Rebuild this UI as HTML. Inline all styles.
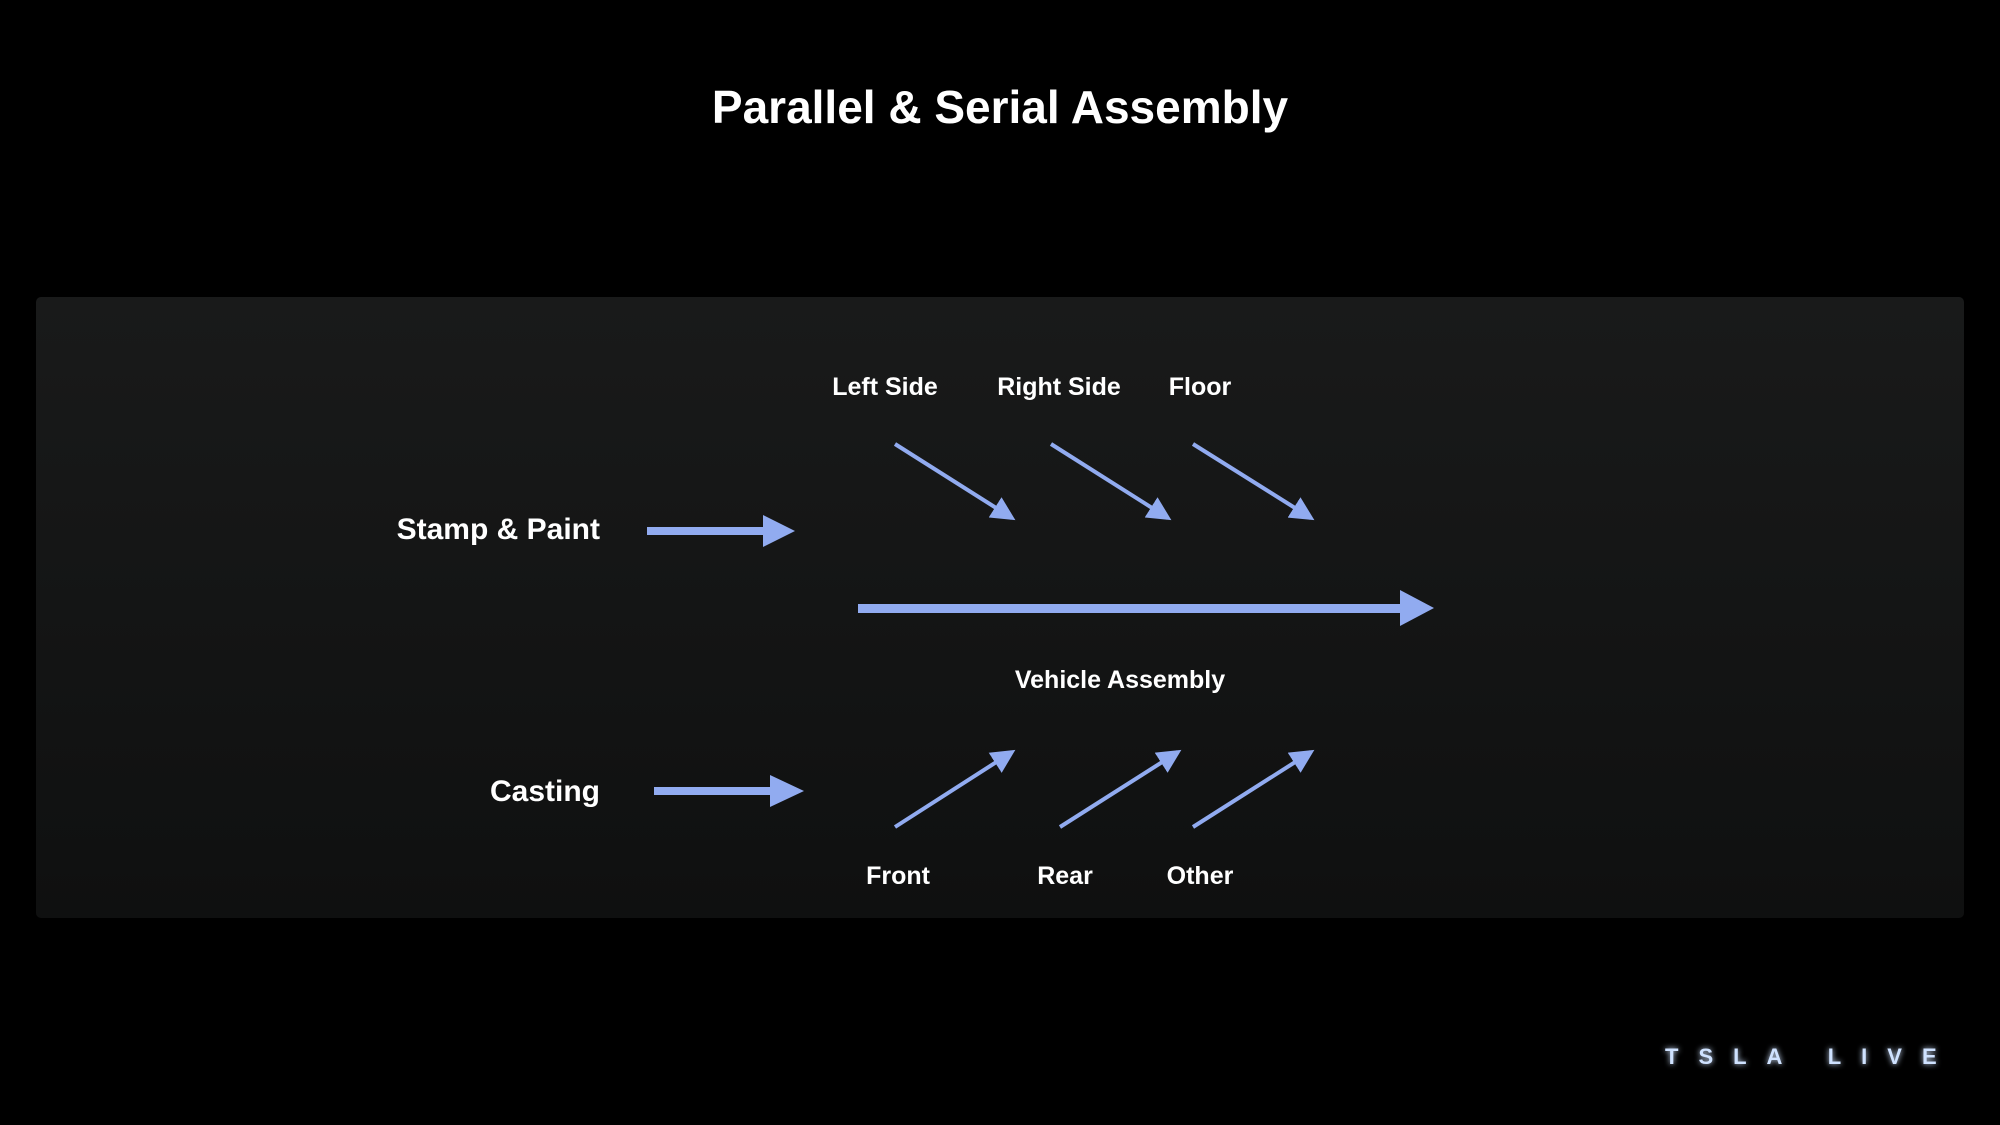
<!DOCTYPE html>
<html><head><meta charset="utf-8"><style>
html,body{margin:0;padding:0;background:#000;}
body{width:2000px;height:1125px;position:relative;overflow:hidden;font-family:"Liberation Sans",sans-serif;}
.panel{position:absolute;left:36px;top:297px;width:1928px;height:621px;border-radius:5px;background:linear-gradient(#191a1a,#0f1010);}
svg{position:absolute;left:0;top:0;}
</style></head><body>
<div class="panel"></div>
<svg width="2000" height="1125" viewBox="0 0 2000 1125">
<defs>
<marker id="h" markerWidth="6" markerHeight="6" refX="5" refY="3" orient="auto" markerUnits="strokeWidth"><path d="M0,0 L6,3 L0,6 z" fill="#91abf0"/></marker>
<filter id="g"><feGaussianBlur stdDeviation="3" result="b"/><feMerge><feMergeNode in="b"/><feMergeNode in="SourceGraphic"/></feMerge></filter>
</defs>
<text x="1000" y="123" fill="#fff" font-size="46" font-weight="bold" text-anchor="middle">Parallel &amp; Serial Assembly</text>
<g fill="#fff" font-size="25" font-weight="bold" text-anchor="middle">
<text x="885" y="395">Left Side</text>
<text x="1059" y="395">Right Side</text>
<text x="1200" y="395">Floor</text>
<text x="1120" y="688">Vehicle Assembly</text>
<text x="898" y="884">Front</text>
<text x="1065" y="884">Rear</text>
<text x="1200" y="884">Other</text>
</g>
<g fill="#fff" font-size="30" font-weight="bold" text-anchor="end">
<text x="600" y="539">Stamp &amp; Paint</text>
<text x="600" y="801">Casting</text>
</g>
<g stroke="#91abf0" stroke-width="4" fill="none">
<line x1="895" y1="444" x2="1012" y2="518" marker-end="url(#h)"/>
<line x1="1051" y1="444" x2="1168" y2="518" marker-end="url(#h)"/>
<line x1="1193" y1="444" x2="1311" y2="518" marker-end="url(#h)"/>
<line x1="895" y1="827" x2="1012" y2="752" marker-end="url(#h)"/>
<line x1="1060" y1="827" x2="1178" y2="752" marker-end="url(#h)"/>
<line x1="1193" y1="827" x2="1311" y2="752" marker-end="url(#h)"/>
</g>
<g fill="#91abf0">
<rect x="647" y="527" width="120" height="8"/><path d="M763,515 L795,531 L763,547 z"/>
<rect x="654" y="787" width="120" height="8"/><path d="M770,775 L804,791 L770,807 z"/>
<rect x="858" y="604" width="545" height="9"/><path d="M1400,590 L1434,608 L1400,626 z"/>
</g>
<text x="1665" y="1064" fill="#cfe2ff" font-size="22" font-weight="bold" letter-spacing="20" filter="url(#g)">TSLA LIVE</text>
</svg>
</body></html>
